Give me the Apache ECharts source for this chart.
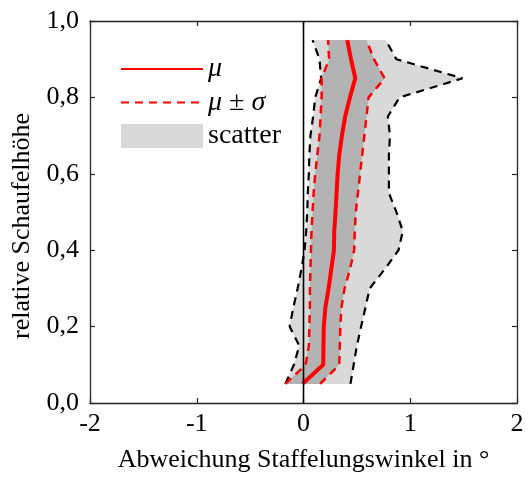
<!DOCTYPE html>
<html>
<head>
<meta charset="utf-8">
<script src="https://cdn.jsdelivr.net/npm/echarts@6/dist/echarts.min.js"></script>
<style>
  html, body { margin: 0; padding: 0; background: #fff; }
  #chart { width: 530px; height: 478px; }
</style>
</head>
<body>
<div id="chart"></div>
<script>
// Relative blade height (sample positions along the span)
const heights = [0.05, 0.10, 0.15, 0.20, 0.25, 0.30, 0.35, 0.40, 0.45, 0.50,
                 0.55, 0.60, 0.65, 0.70, 0.75, 0.80, 0.85, 0.90, 0.95];
// Mean deviation of the stagger angle (deg)
const meanVals  = [-0.01, 0.185, 0.187, 0.19, 0.205, 0.235, 0.26, 0.285, 0.288, 0.30,
                   0.31, 0.32, 0.335, 0.36, 0.39, 0.435, 0.485, 0.445, 0.41];
// Mean minus / plus one standard deviation
const lowerVals = [-0.17, 0.02, 0.05, 0.055, 0.06, 0.06, 0.065, 0.07, 0.075, 0.085,
                   0.095, 0.11, 0.13, 0.15, 0.16, 0.17, 0.17, 0.24, 0.23];
const upperVals = [0.155, 0.335, 0.34, 0.345, 0.355, 0.385, 0.435, 0.475, 0.48, 0.49,
                   0.51, 0.53, 0.55, 0.57, 0.59, 0.61, 0.76, 0.66, 0.59];
// Full scatter range: minimum and maximum
const minVals   = [-0.17, -0.09, -0.04, -0.13, -0.095, -0.055, -0.02, 0.01, 0.025, 0.035,
                   0.04, 0.05, 0.055, 0.065, 0.09, 0.11, 0.165, 0.15, 0.085];
const maxVals   = [0.44, 0.47, 0.50, 0.54, 0.58, 0.62, 0.76, 0.89, 0.93, 0.87,
                   0.80, 0.80, 0.80, 0.81, 0.79, 0.90, 1.49, 0.87, 0.77];
// Axis ticks
const xTicks = [-2, -1, 0, 1, 2];
const yTicks = [0, 0.2, 0.4, 0.6, 0.8, 1.0];

const serif = "Liberation Serif";
const frameColor = '#262626';

const toPoints = vals => vals.map((v, i) => [v, heights[i]]);

// Closed polygon between two profiles (right one going up, left one coming down)
function bandRenderer(leftVals, rightVals, color) {
  return function (params, api) {
    const pts = [];
    for (let i = 0; i < heights.length; i++) pts.push(api.coord([rightVals[i], heights[i]]));
    for (let i = heights.length - 1; i >= 0; i--) pts.push(api.coord([leftVals[i], heights[i]]));
    return {
      type: 'polygon',
      shape: { points: pts },
      style: { fill: color, stroke: null }
    };
  };
}

const chart = echarts.init(document.getElementById('chart'), null, { renderer: 'canvas' });

const xBase = {
  type: 'value', min: xTicks[0], max: xTicks[xTicks.length - 1], interval: 1,
  splitLine: { show: false },
  axisLine: { show: true, onZero: false, lineStyle: { color: frameColor, width: 1.3 } },
  axisTick: { show: true, inside: true, length: 5, lineStyle: { color: frameColor, width: 1.2 } }
};
const yBase = {
  type: 'value', min: yTicks[0], max: yTicks[yTicks.length - 1], interval: 0.2,
  splitLine: { show: false },
  axisLine: { show: true, onZero: false, lineStyle: { color: frameColor, width: 1.3 } },
  axisTick: { show: true, inside: true, length: 5, lineStyle: { color: frameColor, width: 1.2 } }
};

const legendText = { fontFamily: serif, fontSize: 28, color: '#000', lineHeight: 28 };
const hideSymbol = { opacity: 0 };

chart.setOption({
  animation: false,
  backgroundColor: '#fff',
  grid: { left: 90, right: 13, top: 21, bottom: 74.5, containLabel: false },
  xAxis: [
    Object.assign({}, xBase, {
      position: 'bottom',
      name: 'Abweichung Staffelungswinkel in °',
      nameLocation: 'middle',
      nameGap: 44,
      nameTextStyle: { fontFamily: serif, fontSize: 26, color: '#000' },
      axisLabel: {
        show: true, margin: 8, fontFamily: serif, fontSize: 26, color: '#000',
        formatter: v => String(v)
      }
    }),
    Object.assign({}, xBase, { position: 'top', axisLabel: { show: false } })
  ],
  yAxis: [
    Object.assign({}, yBase, {
      position: 'left',
      name: 'relative Schaufelhöhe',
      nameLocation: 'middle',
      nameGap: 49,
      nameTextStyle: { fontFamily: serif, fontSize: 26, color: '#000', padding: [0, 28, 0, 0] },
      axisLabel: {
        show: true, margin: 11, fontFamily: serif, fontSize: 26, color: '#000',
        formatter: v => v.toFixed(1).replace('.', ',')
      }
    }),
    Object.assign({}, yBase, { position: 'right', axisLabel: { show: false } })
  ],
  legend: {
    left: 120, top: 55, orient: 'vertical', padding: 0,
    itemWidth: 82, itemHeight: 24, itemGap: 5.5,
    data: [
      { name: 'μ', itemStyle: hideSymbol },
      { name: 'μ ± σ', itemStyle: hideSymbol },
      { name: 'scatter', icon: 'rect' }
    ],
    formatter: function (name) {
      if (name === 'μ') return '{i|μ}';
      if (name === 'μ ± σ') return '{i|μ}{r| ± }{i|σ}';
      return '{r|' + name + '}';
    },
    textStyle: Object.assign({}, legendText, {
      rich: {
        i: Object.assign({}, legendText, { fontStyle: 'italic' }),
        r: Object.assign({}, legendText)
      }
    })
  },
  series: [
    {
      name: 'scatter', type: 'custom', z: 1, silent: true,
      itemStyle: { color: '#d9d9d9' },
      renderItem: bandRenderer(minVals, maxVals, '#d9d9d9'),
      data: [0]
    },
    {
      name: 'sigma band', type: 'custom', z: 2, silent: true,
      itemStyle: { color: '#b3b3b3' },
      renderItem: bandRenderer(lowerVals, upperVals, '#b3b3b3'),
      data: [0]
    },
    {
      name: 'min', type: 'line', z: 3, symbol: 'none', silent: true,
      lineStyle: { color: '#000', width: 2.2, type: [8, 6] },
      data: toPoints(minVals)
    },
    {
      name: 'max', type: 'line', z: 3, symbol: 'none', silent: true,
      lineStyle: { color: '#000', width: 2.2, type: [8, 6] },
      data: toPoints(maxVals)
    },
    {
      name: 'μ ± σ', type: 'line', z: 4, symbol: 'none', silent: true,
      color: '#ff0000',
      lineStyle: { color: '#ff0000', width: 2.5, type: [8, 6] },
      data: toPoints(lowerVals)
    },
    {
      name: 'μ ± σ', type: 'line', z: 4, symbol: 'none', silent: true,
      color: '#ff0000',
      lineStyle: { color: '#ff0000', width: 2.5, type: [8, 6] },
      data: toPoints(upperVals)
    },
    {
      name: 'μ', type: 'line', z: 5, symbol: 'none', silent: true,
      color: '#ff0000',
      lineStyle: { color: '#ff0000', width: 4 },
      data: toPoints(meanVals)
    },
    {
      name: 'zero', type: 'line', z: 6, symbol: 'none', silent: true,
      lineStyle: { color: '#000', width: 1.6 },
      data: [[0, yTicks[0]], [0, yTicks[yTicks.length - 1]]]
    }
  ]
});
</script>
</body>
</html>
